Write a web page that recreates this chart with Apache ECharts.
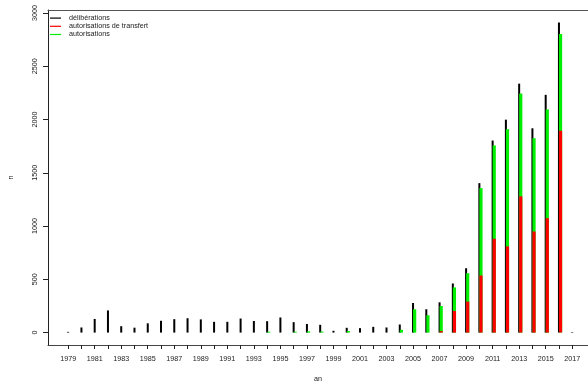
<!DOCTYPE html>
<html>
<head>
<meta charset="utf-8">
<script src="https://cdn.jsdelivr.net/npm/echarts@6/dist/echarts.min.js"></script>
<style>html,body{margin:0;padding:0;background:#fff;overflow:hidden}#c{width:588px;height:388px}</style>
</head>
<body>
<div id="c"></div>
<script>
var years = [1979,1980,1981,1982,1983,1984,1985,1986,1987,1988,1989,1990,1991,1992,1993,1994,1995,1996,1997,1998,1999,2000,2001,2002,2003,2004,2005,2006,2007,2008,2009,2010,2011,2012,2013,2014,2015,2016,2017];
var deliberations = [7,48,128,208,60,46,87,111,126,135,124,101,101,132,109,107,142,98,81,73,17,45,42,54,48,76,278,219,284,461,604,1403,1803,1999,2337,1918,2232,2912,5];
var autorisations = [0,0,0,0,0,0,0,0,0,0,0,0,0,0,0,8,0,8,12,10,0,15,0,0,0,26,219,163,250,424,557,1356,1757,1909,2244,1825,2095,2803,0];
var transfert = [0,0,0,0,0,0,0,0,0,0,0,0,0,0,0,0,0,0,0,0,0,0,0,0,0,0,0,0,14,203,291,536,881,809,1279,949,1074,1894,0];
var xTicks = years;
var xLabels = years.filter(function(y){return (y-1979)%2===0;});
var yLabels = [0,500,1000,1500,2000,2500,3000];

function pairs(vals){ return years.map(function(y,i){return [y, vals[i]];}); }
function maker(offset, width){
  return function(params, api){
    var x = api.value(0), v = api.value(1);
    if (!v) return null;
    var p0 = api.coord([x, 0]);
    var p1 = api.coord([x, v]);
    return {type:'rect', shape:{x:p0[0]+offset, y:p1[1], width:width, height:p0[1]-p1[1]},
            style:{fill: api.visual('color')}};
  };
}
var FONT = 'Liberation Sans, Arial, sans-serif';
var chart = echarts.init(document.getElementById('c'), null, {renderer:'canvas'});
chart.setOption({
  animation:false,
  backgroundColor:'#fff',
  grid:{left:43, top:10, right:0, bottom:41, containLabel:false},
  legend:{
    orient:'vertical', left:50, top:14, padding:0, itemGap:0,
    itemWidth:11, itemHeight:1.2, icon:'rect',
    textStyle:{fontFamily:FONT, fontSize:7.2, color:'#222', lineHeight:8.2, padding:[0,0,0,3]},
    data:['délibérations','autorisations de transfert','autorisations']
  },
  xAxis:[{
    type:'value', min:1977.48, max:2018.19,
    name:'an', nameLocation:'middle', nameGap:31,
    nameTextStyle:{fontFamily:FONT, fontSize:7.2, color:'#222'},
    axisLine:{show:true, onZero:false, lineStyle:{color:'#444', width:1}},
    axisTick:{show:true, length:4, customValues:xTicks, lineStyle:{color:'#222'}},
    axisLabel:{customValues:xLabels, margin:11, fontFamily:FONT, fontSize:7.2, color:'#222', formatter:function(v){return String(v);}},
    splitLine:{show:false}
  },{
    type:'value', position:'top', min:1977.48, max:2018.19,
    axisLine:{show:true, onZero:false, lineStyle:{color:'#555', width:1}},
    axisTick:{show:false}, axisLabel:{show:false}, splitLine:{show:false}
  }],
  yAxis:{
    type:'value', min:-116.5, max:3028.5,
    name:'n', nameLocation:'middle', nameGap:33, nameRotate:90,
    nameTextStyle:{fontFamily:FONT, fontSize:7.2, color:'#222'},
    axisLine:{show:true, onZero:false, lineStyle:{color:'#222', width:1}},
    axisTick:{show:true, length:5, customValues:yLabels, lineStyle:{color:'#222'}},
    axisLabel:{customValues:yLabels, rotate:90, margin:9, fontFamily:FONT, fontSize:7.2, color:'#222', formatter:function(v){return String(v);}},
    splitLine:{show:false}
  },
  series:[
    {name:'délibérations', type:'custom', xAxisIndex:0, itemStyle:{color:'#000'}, renderItem:maker(-1,2), data:pairs(deliberations), clip:true},
    {name:'autorisations', type:'custom', xAxisIndex:0, itemStyle:{color:'#00ee00'}, renderItem:maker(0,3.2), data:pairs(autorisations), clip:true},
    {name:'autorisations de transfert', type:'custom', xAxisIndex:0, itemStyle:{color:'#ff0000'}, renderItem:maker(0,3.2), data:pairs(transfert), clip:true}
  ]
});
</script>
</body>
</html>
